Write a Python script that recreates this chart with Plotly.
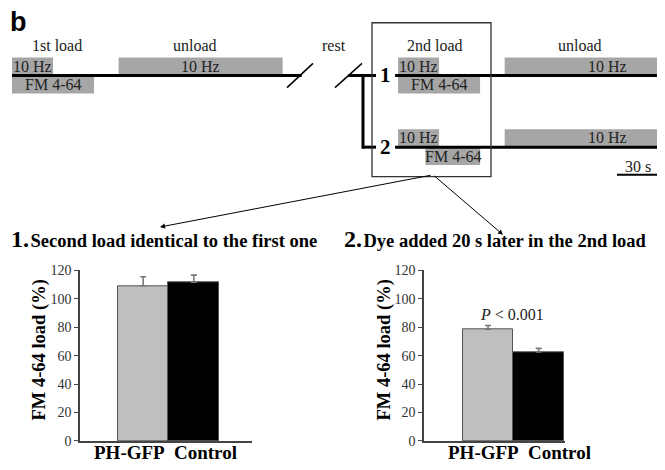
import plotly.graph_objects as go

W, H = 665, 470

# ---------------- data ----------------
groups = ["PH-GFP", "Control"]
bar_colors = ["#bfbfbf", "#000000"]
load_same = [109.1, 111.6]          # panel 1 values (%)
load_same_err = [6.4, 5.0]
load_late = [78.5, 62.6]            # panel 2 values (%)
load_late_err = [2.7, 2.5]
y_ticks = [0, 20, 40, 60, 80, 100, 120]
p_text = "<i>P</i> &lt; 0.001"

# protocol timing (seconds): (start, duration)
stim1 = (0, 30)
dye1 = (0, 60)
unload1 = (78, 120)
stim2 = (0, 30)
dye2_case1 = (0, 60)
dye2_case2 = (20, 40)
unload2 = (78, 150)
scale_bar_s = 30
phase_labels = ["1st load", "unload", "rest", "2nd load", "unload"]
stim_label = "10 Hz"
dye_label = "FM 4-64"

# ---------------- layout helpers ----------------
OFF = 8                # page body margin offset
K = 41 / 30.0          # px per second in the schematic
T0_PX = 12             # page pixel of t=0 of first load
SECOND_ORIGIN = 282.5  # schematic position of the second load (after break)
SERIF = "Liberation Serif"
GRAYBOX = "#a6a6a6"


def PX(x):
    return (x - OFF) / W


def PY(y):
    return 1 - (y - OFF) / H


fig = go.Figure()

err_style = dict(type="data", symmetric=False, color="#777", thickness=1.6, width=3)
fig.add_trace(go.Bar(x=groups, y=load_same, width=1, marker=dict(color=bar_colors, line=dict(color="#555", width=1)),
                     error_y=dict(array=load_same_err, arrayminus=[0, 0], **err_style),
                     xaxis="x", yaxis="y", showlegend=False, hoverinfo="skip"))
fig.add_trace(go.Bar(x=groups, y=load_late, width=1, marker=dict(color=bar_colors, line=dict(color="#555", width=1)),
                     error_y=dict(array=load_late_err, arrayminus=[0, 0], **err_style),
                     xaxis="x2", yaxis="y2", showlegend=False, hoverinfo="skip"))
fig.add_trace(go.Scatter(x=[None], y=[None], xaxis="x3", yaxis="y3", showlegend=False, hoverinfo="skip"))

y_dom = [PY(448), PY(271.7)]
common_y = dict(range=[0, 120], tickvals=y_ticks, showline=True, linecolor="#444", linewidth=1.5,
                ticks="outside", ticklen=4, tickcolor="#444", showgrid=False, zeroline=False,
                tickfont=dict(family=SERIF, size=14, color="#333"))
common_x = dict(type="category", showline=True, linecolor="#444", linewidth=1.5, showticklabels=False,
                ticks="", showgrid=False, zeroline=False)

fig.update_layout(
    width=W, height=H, margin=dict(l=0, r=0, t=0, b=0),
    paper_bgcolor="white", plot_bgcolor="rgba(0,0,0,0)", bargap=0,
    xaxis=dict(domain=[PX(80), PX(252)], range=[-1.245, 2.147], anchor="y", **common_x),
    yaxis=dict(domain=y_dom, anchor="x", **common_y),
    xaxis2=dict(domain=[PX(424), PX(565)], range=[-1.265, 1.52], anchor="y2", **common_x),
    yaxis2=dict(domain=y_dom, anchor="x2", **common_y),
    xaxis3=dict(domain=[0, 1], range=[(OFF - T0_PX) / K, (OFF + W - T0_PX) / K], visible=False, anchor="y3"),
    yaxis3=dict(domain=[0, 1], range=[0, 1], visible=False, anchor="x3"),
)

shapes = []
ann = []


def text_at(x, y, text, size=16, xref="paper", yref="paper", xanchor="center", family=SERIF, color="#222", **kw):
    ann.append(dict(x=x, y=y, xref=xref, yref=yref, text=text, showarrow=False, xanchor=xanchor,
                    yanchor="middle", font=dict(family=family, size=size, color=color), **kw))


def tbox(t0, dur, ytop, ybot, text, align="center"):
    shapes.append(dict(type="rect", xref="x3", yref="paper", x0=t0, x1=t0 + dur, y0=PY(ybot), y1=PY(ytop),
                       fillcolor=GRAYBOX, line=dict(width=0), layer="below"))
    if align == "left":
        text_at(t0 - 0.8, PY((ytop + ybot) / 2), text, xref="x3", xanchor="left")
    else:
        text_at(t0 + dur / 2, PY((ytop + ybot) / 2), text, xref="x3")


def tline(t0, t1, y, w=3):
    shapes.append(dict(type="line", xref="x3", yref="paper", x0=t0, x1=t1, y0=PY(y), y1=PY(y),
                       line=dict(color="black", width=w)))


def pline(x0, y0, x1, y1, w=1.5, color="black"):
    shapes.append(dict(type="line", xref="paper", yref="paper", x0=PX(x0), y0=PY(y0), x1=PX(x1), y1=PY(y1),
                       line=dict(color=color, width=w)))


# first load row
tbox(stim1[0], stim1[1], 52, 69.5, stim_label, align="left")
tbox(dye1[0], dye1[1], 71, 89, dye_label)
tbox(unload1[0], unload1[1], 52, 69.5, stim_label)
tline(0, unload1[0] + unload1[1] + 14, 70.5)

# second load, case 1
o = SECOND_ORIGIN
tbox(o + stim2[0], stim2[1], 52, 69.5, stim_label, align="left")
tbox(o + dye2_case1[0], dye2_case1[1], 71, 89, dye_label)
tbox(o + unload2[0], unload2[1], 52, 69.5, stim_label)
tline(o - 2.2, o + 200, 70.5)

# second load, case 2
tbox(o + stim2[0], stim2[1], 126, 143.5, stim_label, align="left")
tbox(o + dye2_case2[0], dye2_case2[1], 145, 163, dye_label)
tbox(o + unload2[0], unload2[1], 126, 143.5, stim_label)
tline(o - 2.2, o + 200, 144.5)

# scale bar
sb0 = o + 160.2
tline(sb0, sb0 + scale_bar_s, 173, w=2)
text_at(sb0 + scale_bar_s / 2, PY(164), f"{scale_bar_s} s", xref="x3")

# breaks (slashes)
pline(287, 83, 313, 58)
pline(335, 83, 362, 58)
# branch
pline(348, 70.5, 376, 70.5, w=3)
pline(363, 69, 363, 146, w=3)
pline(362, 144.5, 376, 144.5, w=3)

# box around 2nd load
shapes.append(dict(type="rect", xref="paper", yref="paper", x0=PX(372), x1=PX(491), y0=PY(175), y1=PY(16),
                   line=dict(color="#333", width=1.3), fillcolor="rgba(0,0,0,0)"))

# phase labels
for lab, xc in zip(phase_labels, [57, 194.5, 333.5, 435, 580]):
    text_at(PX(xc), PY(39), lab)

# case numbers
for lab, yc in [("1", 70), ("2", 144)]:
    text_at(PX(385), PY(yc), f"<b>{lab}</b>", size=21, color="black")

# panel letter
text_at(PX(18.5), PY(15), "<b>b</b>", size=27, family="Liberation Sans", color="black")

# arrows from box
for hx, hy, ax, ay in [(160, 227, 272, -52), (503, 235, -70, -60)]:
    ann.append(dict(x=PX(hx), y=PY(hy), xref="paper", yref="paper", ax=ax, ay=ay, text="", showarrow=True,
                    arrowhead=2, arrowsize=1, arrowwidth=1, arrowcolor="black", xanchor="center", yanchor="middle"))

# panel titles
gap = "<span style='font-size:6px'> </span>"
text_at(PX(9), PY(239), f"<b><span style='font-size:24px'>1.</span>{gap}Second load identical to the first one</b>",
        size=18.5, xanchor="left", color="black")
text_at(PX(342), PY(239), f"<b><span style='font-size:24px'>2.</span>{gap}Dye added 20 s later in the 2nd load</b>",
        size=18.5, xanchor="left", color="black")

# y axis titles
for xc in [39.5, 384.5]:
    text_at(PX(xc), PY(354), "<b>FM 4-64 load (%)</b>", size=18.5, color="black", textangle=-90)

# group labels
for i, g in enumerate(groups):
    text_at([-0.265, 1.225][i], PY(460), f"<b>{g}</b>", size=19, xref="x", color="black")
    text_at([-0.088, 1.42][i], PY(460), f"<b>{g}</b>", size=19, xref="x2", color="black")

# p-value
text_at(0.48, 89.2, p_text, xref="x2", yref="y2")

fig.update_layout(shapes=shapes, annotations=ann)
fig.write_html("out.html")
